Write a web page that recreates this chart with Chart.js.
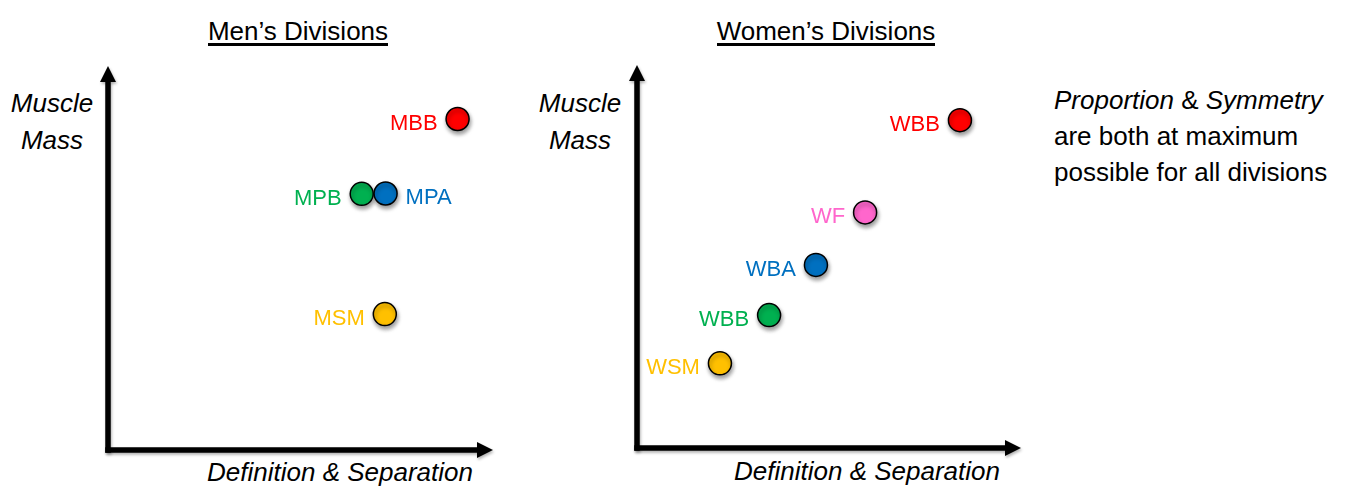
<!DOCTYPE html>
<html>
<head>
<meta charset="utf-8">
<script src="https://cdn.jsdelivr.net/npm/chart.js@4"></script>
<style>
  html, body { margin: 0; padding: 0; background: #fff; }
  body { width: 1345px; height: 488px; position: relative; overflow: hidden;
         font-family: "Liberation Sans", Arial, sans-serif; color: #000; }
  canvas.plot { position: absolute; top: 0; }
  .title { position: absolute; font-size: 26px; text-align: center; }
  .title span { display: inline-block; line-height: 24px; border-bottom: 3px solid #000; }
  .ylab { position: absolute; width: 110px; text-align: center; font-style: italic;
          font-size: 26px; line-height: 37px; }
  .xlab { position: absolute; text-align: right; font-style: italic; font-size: 26px; line-height: 30px; }
  .note { position: absolute; left: 1054px; top: 82px; font-size: 26px; line-height: 36px; white-space: nowrap; }
</style>
</head>
<body>

<div class="title" style="left:148px; width:300px; top:16px;"><span>Men’s Divisions</span></div>
<div class="title" style="left:676px; width:300px; top:16px;"><span>Women’s Divisions</span></div>

<div class="ylab" style="left:-3px; top:85px;">Muscle<br>Mass</div>
<div class="ylab" style="left:525px; top:85px;">Muscle<br>Mass</div>

<div class="xlab" style="right:872px; top:457px;">Definition &amp; Separation</div>
<div class="xlab" style="right:345px; top:456px;">Definition &amp; Separation</div>

<div class="note"><i>Proportion</i> &amp; <i>Symmetry</i><br>are both at maximum<br>possible for all divisions</div>

<canvas id="menChart" class="plot" width="520" height="488" style="left:0px; width:520px; height:488px;"></canvas>
<canvas id="womenChart" class="plot" width="520" height="488" style="left:529px; width:520px; height:488px;"></canvas>

<script>
// ---- data (0..10 on both axes) ----
const menLabels = ['MBB', 'MPB', 'MPA', 'MSM'];
const menX = [9.08, 6.59, 7.21, 7.19];
const menY = [8.62, 6.67, 6.68, 3.54];

const womenLabels = ['WBB', 'WF', 'WBA', 'WBB', 'WSM'];
const womenX = [8.41, 5.94, 4.66, 3.44, 2.16];
const womenY = [8.56, 6.15, 4.78, 3.47, 2.21];

// ---- styles ----
const RED = '#FF0000', GREEN = '#00B050', BLUE = '#0070C0', GOLD = '#FFC000', PINK = '#FF66CC';
const menColors = [RED, GREEN, BLUE, GOLD];
const womenColors = [RED, PINK, BLUE, GREEN, GOLD];
const menLabelSide = ['left', 'left', 'right', 'left'];
const womenLabelSide = ['left', 'left', 'left', 'left', 'left'];

// arrows for the two axes
const arrowAxes = {
  id: 'arrowAxes',
  beforeDatasetsDraw(chart) {
    const { ctx, chartArea: a } = chart;
    const w = 5.5, head = 16, half = 8;
    ctx.save();
    ctx.shadowColor = 'rgba(0,0,0,0.3)';
    ctx.shadowBlur = 3;
    ctx.shadowOffsetX = 1;
    ctx.shadowOffsetY = 2;
    ctx.fillStyle = '#000';
    // y axis
    ctx.fillRect(a.left - w / 2, a.top + head - 1, w, a.bottom - a.top - head + w / 2 + 1);
    ctx.beginPath();
    ctx.moveTo(a.left - half, a.top + head);
    ctx.lineTo(a.left + half, a.top + head);
    ctx.lineTo(a.left, a.top);
    ctx.closePath();
    ctx.fill();
    // x axis
    ctx.fillRect(a.left - w / 2, a.bottom - w / 2, a.right - a.left - head + w / 2 + 1, w);
    ctx.beginPath();
    ctx.moveTo(a.right - head, a.bottom - half);
    ctx.lineTo(a.right - head, a.bottom + half);
    ctx.lineTo(a.right, a.bottom);
    ctx.closePath();
    ctx.fill();
    ctx.restore();
  }
};

// soft drop shadow under the dots
const dotShadow = {
  id: 'dotShadow',
  beforeDatasetsDraw(chart) {
    const ctx = chart.ctx;
    ctx.save();
    ctx.shadowColor = 'rgba(0,0,0,0.4)';
    ctx.shadowBlur = 4;
    ctx.shadowOffsetX = 1;
    ctx.shadowOffsetY = 3;
  },
  afterDatasetsDraw(chart) {
    chart.ctx.restore();
  }
};

// coloured name beside each dot
const pointNames = {
  id: 'pointNames',
  afterDatasetsDraw(chart, args, opts) {
    const { ctx } = chart;
    const pts = chart.getDatasetMeta(0).data;
    ctx.save();
    ctx.font = '22px "Liberation Sans", Arial, sans-serif';
    ctx.textBaseline = 'alphabetic';
    pts.forEach((p, i) => {
      const right = opts.sides[i] === 'right';
      ctx.fillStyle = opts.colors[i];
      ctx.textAlign = right ? 'left' : 'right';
      ctx.fillText(opts.names[i], p.x + (right ? 20 : -20), p.y + 11);
    });
    ctx.restore();
  }
};

function makeChart(id, xs, ys, names, colors, sides, pad) {
  return new Chart(document.getElementById(id), {
    type: 'scatter',
    data: {
      datasets: [{
        data: xs.map((x, i) => ({ x: x, y: ys[i] })),
        backgroundColor: colors,
        borderColor: '#000',
        borderWidth: 1.5,
        pointRadius: 11.5,
        pointHoverRadius: 11.5
      }]
    },
    options: {
      responsive: false,
      animation: false,
      events: [],
      layout: { padding: pad },
      plugins: {
        legend: { display: false },
        tooltip: { enabled: false },
        pointNames: { names: names, colors: colors, sides: sides }
      },
      scales: {
        x: { type: 'linear', min: 0, max: 10, display: false },
        y: { type: 'linear', min: 0, max: 10, display: false }
      }
    },
    plugins: [arrowAxes, dotShadow, pointNames]
  });
}

makeChart('menChart', menX, menY, menLabels, menColors, menLabelSide,
  { left: 108, top: 66, right: 27, bottom: 38 });
makeChart('womenChart', womenX, womenY, womenLabels, womenColors, womenLabelSide,
  { left: 108, top: 65, right: 28, bottom: 40 });
</script>
</body>
</html>
